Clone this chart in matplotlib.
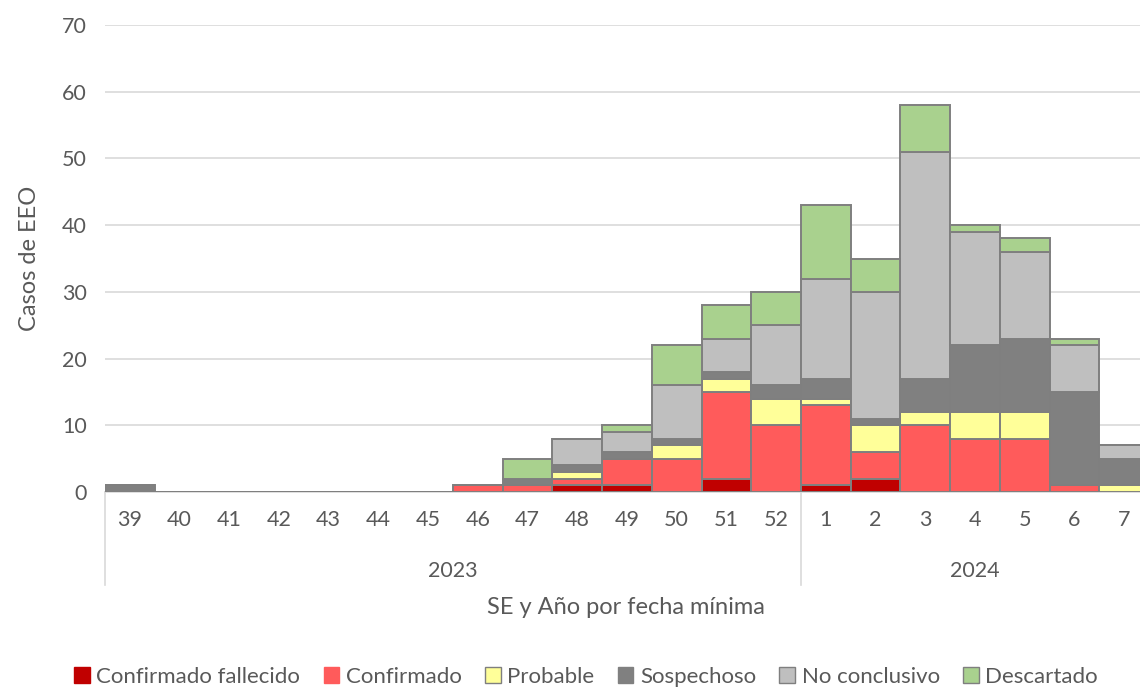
import matplotlib
matplotlib.use("Agg")
import matplotlib.pyplot as plt
from matplotlib.patches import Patch
import numpy as np

weeks = ["39", "40", "41", "42", "43", "44", "45", "46", "47", "48", "49", "50", "51", "52",
         "1", "2", "3", "4", "5", "6", "7"]
years = ["2023", "2024"]
year_counts = [14, 7]

fallecido   = [0, 0, 0, 0, 0, 0, 0, 0, 0, 1, 1, 0, 2, 0, 1, 2, 0, 0, 0, 0, 0]
confirmado  = [0, 0, 0, 0, 0, 0, 0, 1, 1, 1, 4, 5, 13, 10, 12, 4, 10, 8, 8, 1, 0]
probable    = [0, 0, 0, 0, 0, 0, 0, 0, 0, 1, 0, 2, 2, 4, 1, 4, 2, 4, 4, 0, 1]
sospechoso  = [1, 0, 0, 0, 0, 0, 0, 0, 1, 1, 1, 1, 1, 2, 3, 1, 5, 10, 11, 14, 4]
no_concl    = [0, 0, 0, 0, 0, 0, 0, 0, 0, 4, 3, 8, 5, 9, 15, 19, 34, 17, 13, 7, 2]
descartado  = [0, 0, 0, 0, 0, 0, 0, 0, 3, 0, 1, 6, 5, 5, 11, 5, 7, 1, 2, 1, 0]

series = [
    ("Confirmado fallecido", fallecido, "#C00000"),
    ("Confirmado", confirmado, "#FF5B5B"),
    ("Probable", probable, "#FFFF99"),
    ("Sospechoso", sospechoso, "#808080"),
    ("No conclusivo", no_concl, "#BFBFBF"),
    ("Descartado", descartado, "#A9D18E"),
]

plt.rcParams['font.family'] = ['Lato', 'DejaVu Sans']
txt = "#595959"

fig = plt.figure(figsize=(11.4, 6.88), dpi=100)
ax = fig.add_axes([105/1140, 1-492/688, (1149-105)/1140, (492-25)/688])

x = np.arange(len(weeks))
bottom = np.zeros(len(weeks))
handles = []
for name, vals, col in series:
    v = np.array(vals, dtype=float)
    ax.bar(x, v, bottom=bottom, width=1.0, color=col, edgecolor="#7F7F7F",
           linewidth=1.4, zorder=3)
    bottom += v
    handles.append(Patch(facecolor=col, edgecolor="#7F7F7F" if name in ("No conclusivo", "Descartado", "Probable") else col,
                         linewidth=1.0, label=name))

ax.set_xlim(-0.5, len(weeks) - 0.5)
ax.set_ylim(0, 70)
ax.set_yticks(range(0, 71, 10))
ax.yaxis.grid(True, color="#D9D9D9", linewidth=1.2, zorder=0)
ax.set_axisbelow(True)
for s in ["top", "right", "left"]:
    ax.spines[s].set_visible(False)
ax.spines["bottom"].set_color("#D9D9D9")
ax.spines["bottom"].set_linewidth(1.2)
ax.tick_params(axis="y", length=0, labelsize=15.5, labelcolor=txt, pad=13)
ax.set_xticks(x)
ax.set_xticklabels(weeks)
ax.tick_params(axis="x", length=0, labelsize=15.5, labelcolor=txt, pad=13)

# year labels and separators
start = 0
trans = ax.get_xaxis_transform()
for yr, n in zip(years, year_counts):
    center = start + (n - 1) / 2
    ax.text(center, -79/467, yr, transform=trans, ha="center", va="center",
            fontsize=15.5, color=txt)
    start += n
sep_positions = [-0.5] + list(np.cumsum(year_counts)[:-1] - 0.5)
for sp in sep_positions:
    ax.plot([sp, sp], [0, -93/467], transform=trans, color="#D9D9D9",
            linewidth=1.2, clip_on=False)

ax.set_ylabel("Casos de EEO", fontsize=17, color=txt, labelpad=16)
fig.text(626/1140, 1-607/688, "SE y Año por fecha mínima", ha="center", va="center",
         fontsize=17, color=txt)

fig.legend(handles=handles, loc="center", bbox_to_anchor=(586/1140, 1-677/688), ncol=6,
           frameon=False, fontsize=16, labelcolor=txt, handlelength=0.7, handleheight=0.7,
           handletextpad=0.3, columnspacing=1.05)

fig.savefig("out.png", dpi=100)
